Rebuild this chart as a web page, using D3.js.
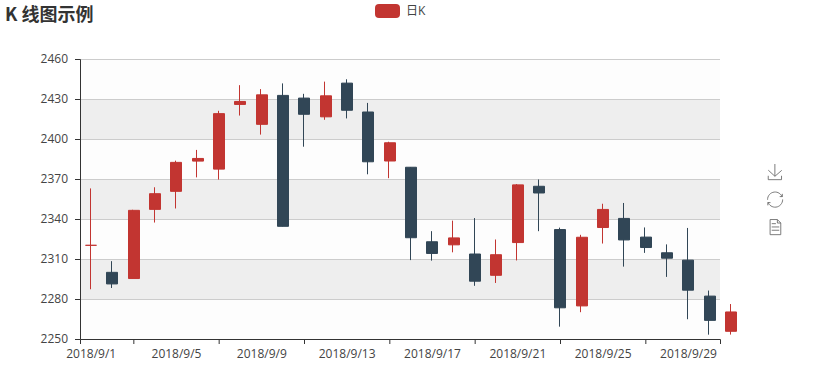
<!DOCTYPE html>
<html>
<head>
    <meta charset="utf-8" />
    <title>K 线图示例</title>
    <script src="https://cdn.jsdelivr.net/npm/d3@7"></script>
    <style>
        html, body { margin: 0; padding: 0; background: #fff; }
        svg { display: block; }
        text { font-family: "Open Sans", "Noto Sans CJK SC", sans-serif; }
        .title { font-family: "Noto Sans CJK SC", sans-serif; }
    </style>
</head>
<body>
    <script>
        const dates = ['2018/9/1', '2018/9/2', '2018/9/3', '2018/9/4', '2018/9/5', '2018/9/6', '2018/9/7', '2018/9/8', '2018/9/9', '2018/9/10',
            '2018/9/11', '2018/9/12', '2018/9/13', '2018/9/14', '2018/9/15', '2018/9/16', '2018/9/17', '2018/9/18', '2018/9/19', '2018/9/20',
            '2018/9/21', '2018/9/22', '2018/9/23', '2018/9/24', '2018/9/25', '2018/9/26', '2018/9/27', '2018/9/28', '2018/9/29', '2018/9/30']

        // one more candle than there are dates, it hangs off the right of the grid
        const opens = [2320.26, 2300, 2295.35, 2347.22, 2360.75, 2383.43, 2377.41, 2425.92, 2411, 2432.7,
            2430.69, 2416.62, 2441.91, 2420.26, 2383.49, 2378.82, 2322.94, 2320.62, 2313.74, 2297.77,
            2322.32, 2364.54, 2332.08, 2274.81, 2333.61, 2340.44, 2326.42, 2314.68, 2309.16, 2282.17, 2255.77]
        const closes = [2320.26, 2291.3, 2346.5, 2358.98, 2382.48, 2385.42, 2419.02, 2428.15, 2433.13, 2334.5,
            2418.53, 2432.4, 2421.56, 2382.91, 2397.18, 2325.95, 2314.16, 2325.82, 2293.34, 2313.22,
            2365.59, 2359.51, 2273.4, 2326.31, 2347.18, 2324.29, 2318.61, 2310.59, 2286.6, 2263.97, 2270.28]
        const lows = [2287.3, 2288.26, 2295.35, 2337.35, 2347.89, 2371.23, 2369.57, 2417.58, 2403.3, 2334.5,
            2394.22, 2414.4, 2415.43, 2373.53, 2370.61, 2309.17, 2308.76, 2315.01, 2289.89, 2292.03,
            2308.92, 2330.86, 2259.25, 2270.1, 2321.6, 2304.27, 2314.59, 2296.58, 2264.83, 2253.25, 2253.31]
        const highs = [2362.94, 2308.38, 2346.92, 2363.8, 2383.76, 2391.82, 2421.15, 2440.38, 2437.42, 2441.7,
            2433.89, 2443.03, 2444.8, 2427.07, 2397.94, 2378.82, 2330.88, 2338.78, 2340.71, 2324.63,
            2366.16, 2369.65, 2333.54, 2328.14, 2351.44, 2352.02, 2333.67, 2320.96, 2333.29, 2286.33, 2276.22]

        const yTicks = [2250, 2280, 2310, 2340, 2370, 2400, 2430, 2460]
        const labelEvery = 4

        const upColor = '#c23531',
            downColor = '#314656',
            axisColor = '#333',
            labelColor = '#444',
            bodyHalf = 5.33

        const margin = { top: 59, left: 80, right: 98, bottom: 33 },
            width = 818,
            height = 372

        const svg = d3.select('body')
            .append('svg')
            .attr('width', width)
            .attr('height', height)

        const x = d3.scaleLinear().domain([0, dates.length]).range([margin.left, width - margin.right])
        const y = d3.scaleLinear().domain([2250, 2460]).range([height - margin.bottom, margin.top])

        // bands and split lines
        const bands = d3.pairs(yTicks)
        svg.append('g')
            .selectAll('rect')
            .data(bands)
            .enter()
            .append('rect')
            .attr('x', x(0))
            .attr('y', d => y(d[1]))
            .attr('width', x(dates.length) - x(0))
            .attr('height', d => y(d[0]) - y(d[1]))
            .attr('fill', (d, i) => i % 2 === 0 ? '#fdfdfd' : '#eeeeee')

        svg.append('g')
            .selectAll('line')
            .data(yTicks.slice(1))
            .enter()
            .append('line')
            .attr('x1', x(0))
            .attr('x2', x(dates.length))
            .attr('y1', d => y(d) + 0.5)
            .attr('y2', d => y(d) + 0.5)
            .attr('stroke', '#ccc')

        // x axis: the tick marks sit at the centre of a band between two labels
        const tickPos = d3.range(2.5, dates.length - 1, labelEvery)
        const labelPos = d3.range(0.5, dates.length, labelEvery)

        svg.append('g')
            .attr('transform', `translate(0, ${height - margin.bottom})`)
            .call(d3.axisBottom(x).tickValues(tickPos).tickSizeOuter(0).tickSize(5).tickFormat(''))

        svg.append('g')
            .attr('transform', `translate(0, ${height - margin.bottom})`)
            .call(d3.axisBottom(x).tickValues(labelPos).tickSize(0).tickPadding(10)
                .tickFormat(d => dates[d - 0.5]))
            .call(g => g.select('.domain').remove())

        svg.append('g')
            .attr('transform', `translate(${margin.left}, 0)`)
            .call(d3.axisLeft(y).tickValues(yTicks).tickSizeOuter(0).tickSize(5).tickPadding(7).tickFormat(d3.format('d')))

        svg.selectAll('.domain, .tick line').attr('stroke', axisColor)
        svg.selectAll('.tick text')
            .attr('fill', labelColor)
            .style('font-size', '12px')
            .style('font-family', '"Open Sans", sans-serif')

        // candles
        const candles = svg.append('g')
            .selectAll('g')
            .data(opens)
            .enter()
            .append('g')
            .attr('stroke', (d, i) => closes[i] >= d ? upColor : downColor)
            .attr('fill', (d, i) => closes[i] >= d ? upColor : downColor)

        function center(i) {
            return Math.round(x(i + 0.5)) - 0.5
        }

        candles.append('line')
            .attr('x1', (d, i) => center(i))
            .attr('x2', (d, i) => center(i))
            .attr('y1', (d, i) => y(highs[i]))
            .attr('y2', (d, i) => y(lows[i]))

        // a path and not a rect, an open equal to the close still has to show
        candles.append('path')
            .attr('d', (d, i) => {
                let p = d3.path(),
                    left = Math.floor(x(i + 0.5) - bodyHalf) + 0.5,
                    right = Math.round(x(i + 0.5) + bodyHalf) + 0.5,
                    top = y(Math.max(d, closes[i])),
                    bottom = y(Math.min(d, closes[i]))
                p.rect(left, top, right - left, bottom - top)
                return p.toString()
            })

        // title and legend
        svg.append('text')
            .attr('class', 'title')
            .attr('x', 5)
            .attr('y', 21)
            .attr('font-size', 18)
            .attr('font-weight', 'bold')
            .attr('fill', axisColor)
            .text('K 线图示例')

        svg.append('rect')
            .attr('x', 375)
            .attr('y', 4)
            .attr('width', 25)
            .attr('height', 14)
            .attr('rx', 4)
            .attr('fill', upColor)

        svg.append('text')
            .attr('x', 406)
            .attr('y', 15)
            .attr('font-size', 12)
            .attr('fill', labelColor)
            .text('日K')

        // toolbox icons
        const icons = [
            'M4.7,22.9L29.3,45.5L54.7,23.4M4.6,43.6L4.6,58L53.8,58L53.8,43.6M29.2,45.1L29.2,0',
            'M47,18.9h9.8V8.7M56.3,20.1C52.1,9,40.5,0.6,26.8,2.1C12.6,3.7,1.6,16.2,2.1,30.6M13,41.1H3.1v10.2M3.7,39.9c4.2,11.1,15.8,19.5,29.5,18c14.2-1.6,25.2-14.1,24.7-28.5',
            'M17.5,17.3H33M45.4,29.5h-28M11.5,2v56H51V14.8L38.4,2H11.5zM38.4,2.2v12.7H51M45.4,41.7h-28'
        ]

        svg.append('g')
            .selectAll('path')
            .data(icons)
            .enter()
            .append('path')
            .attr('d', d => d)
            .attr('transform', (d, i) => `translate(767, ${164 + i * 27.5}) scale(0.27)`)
            .attr('fill', 'none')
            .attr('stroke', '#666')
            .attr('stroke-width', 0.85 / 0.27)
    </script>
</body>
</html>
